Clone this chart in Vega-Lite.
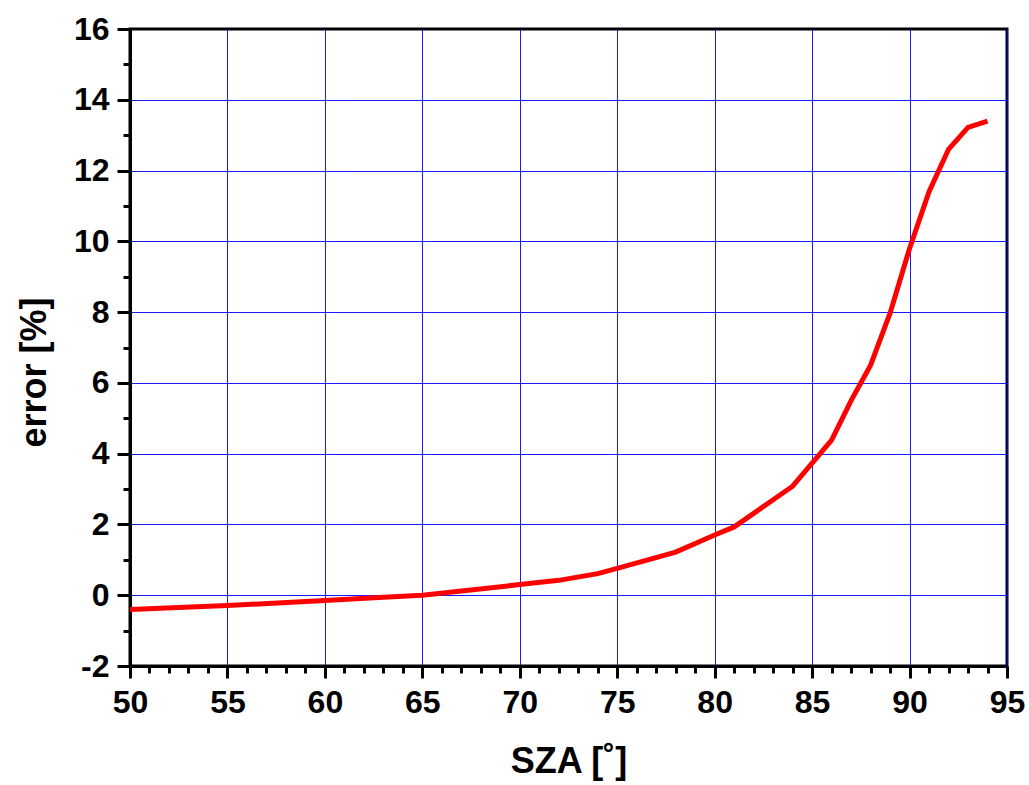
{
  "$schema": "https://vega.github.io/schema/vega-lite/v6.json",
  "autosize": "none",
  "width": 877,
  "height": 637,
  "padding": {"left": 130, "top": 29, "right": 22, "bottom": 119},
  "background": "white",
  "config": {
    "view": {"stroke": "black", "strokeWidth": 3},
    "font": "Liberation Sans"
  },
  "data": {
    "values": [
      {"sza": 50, "error": -0.4},
      {"sza": 55, "error": -0.29},
      {"sza": 60, "error": -0.15},
      {"sza": 63, "error": -0.06},
      {"sza": 65, "error": 0.0},
      {"sza": 70, "error": 0.3},
      {"sza": 72, "error": 0.42},
      {"sza": 74, "error": 0.61},
      {"sza": 75, "error": 0.76},
      {"sza": 78, "error": 1.22},
      {"sza": 80, "error": 1.7},
      {"sza": 81, "error": 1.93},
      {"sza": 84, "error": 3.08},
      {"sza": 85, "error": 3.73},
      {"sza": 86, "error": 4.38},
      {"sza": 87, "error": 5.5},
      {"sza": 88, "error": 6.5},
      {"sza": 89, "error": 7.97},
      {"sza": 90, "error": 9.8},
      {"sza": 91, "error": 11.4},
      {"sza": 92, "error": 12.6},
      {"sza": 93, "error": 13.22},
      {"sza": 94, "error": 13.4}
    ]
  },
  "mark": {"type": "line", "color": "#ff0000", "strokeWidth": 5, "clip": true},
  "encoding": {
    "x": {
      "field": "sza",
      "type": "quantitative",
      "scale": {"domain": [50, 95], "nice": false, "zero": false},
      "axis": {
        "title": "SZA [˚]",
        "values": [50,51,52,53,54,55,56,57,58,59,60,61,62,63,64,65,66,67,68,69,70,71,72,73,74,75,76,77,78,79,80,81,82,83,84,85,86,87,88,89,90,91,92,93,94,95],
        "labelExpr": "datum.value % 5 === 0 ? '' + datum.value : ''",
        "tickSize": {"condition": {"test": "datum.value % 5 === 0", "value": 12}, "value": 7},
        "tickWidth": 3,
        "tickColor": "black",
        "domainColor": "black",
        "domainWidth": 3,
        "grid": true,
        "gridColor": "#0000ff",
        "gridWidth": 1,
        "gridOpacity": {"condition": {"test": "datum.value % 5 === 0", "value": 0.9}, "value": 0},
        "labelFont": "Liberation Sans",
        "labelFontSize": 32,
        "labelFontWeight": "bold",
        "labelColor": "black",
        "labelPadding": 9,
        "labelFlush": false,
        "labelOverlap": false,
        "titleFont": "Liberation Sans",
        "titleFontSize": 36,
        "titleFontWeight": "bold",
        "titleColor": "black",
        "titlePadding": 26
      }
    },
    "y": {
      "field": "error",
      "type": "quantitative",
      "scale": {"domain": [-2, 16], "nice": false, "zero": false},
      "axis": {
        "title": "error [%]",
        "values": [-2,-1,0,1,2,3,4,5,6,7,8,9,10,11,12,13,14,15,16],
        "labelExpr": "datum.value % 2 === 0 ? '' + datum.value : ''",
        "tickSize": {"condition": {"test": "datum.value % 2 === 0", "value": 13}, "value": 7},
        "tickWidth": 3,
        "tickColor": "black",
        "domainColor": "black",
        "domainWidth": 3,
        "grid": true,
        "gridColor": "#0000ff",
        "gridWidth": 1,
        "gridOpacity": {"condition": {"test": "datum.value % 2 === 0 && datum.value > -2 && datum.value < 16", "value": 0.9}, "value": 0},
        "labelFont": "Liberation Sans",
        "labelFontSize": 32,
        "labelFontWeight": "bold",
        "labelColor": "black",
        "labelPadding": 8,
        "labelFlush": false,
        "labelOverlap": false,
        "titleFont": "Liberation Sans",
        "titleFontSize": 36,
        "titleFontWeight": "bold",
        "titleColor": "black",
        "titlePadding": 20,
        "titleY": 343
      }
    }
  }
}
